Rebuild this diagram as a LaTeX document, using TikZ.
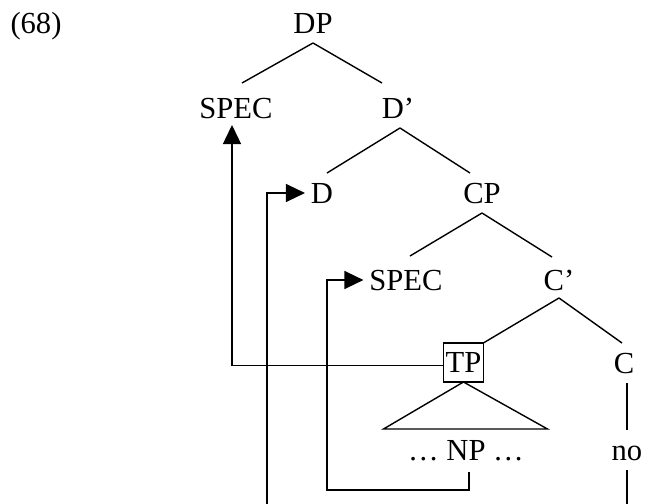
\documentclass[tikz,border=0pt]{standalone}
\usepackage{fontspec}
\setmainfont{Liberation Serif}
\usetikzlibrary{arrows.meta}

\newcommand{\catfont}{\fontsize{15.3}{18}\selectfont}

\begin{document}
\begin{tikzpicture}[x=0.5pt,y=-0.5pt,line width=.7pt]
    \tikzstyle{cat} = [inner sep=0pt, outer xsep=0pt, outer ysep=5pt,
        text height=10pt, text depth=0pt, font=\catfont]
    \tikzstyle{boxed} = [cat, draw, inner xsep=1pt, inner ysep=4.75pt,
        outer ysep=0pt]
    \tikzstyle{move} = [draw, -{Triangle[length=9.5pt,width=9pt]}]

    \clip (0,0) rectangle (645,504);

    % example number
    \node[cat] (exnum) at (36,23) {(68)};
    % DP layer
    \node[cat] (dp) at (313,23) {DP};
    \node[cat] (spec) at (236,108) {SPEC};
    \node[cat] (dbar) at (398,108) {D’};
    \draw (dp.south) -- ([xshift=3pt,yshift=2.5pt]spec.north);
    \draw (dp.south) -- ([xshift=-8pt,yshift=2.5pt]dbar.north);
    % D and CP
    \node[cat] (d) at (322,193) {D};
    \node[cat] (cp) at (482,193) {CP};
    \draw ([xshift=1pt]dbar.south) -- ([xshift=2.5pt]d.north);
    \draw ([xshift=1pt]dbar.south) -- ([xshift=-6pt]cp.north);
    % CP layer
    \node[cat] (specc) at (406,280) {SPEC};
    \node[cat] (cbar) at (559,280) {C’};
    \draw (cp.south) -- ([xshift=2pt,yshift=2pt]specc.north);
    \draw (cp.south) -- ([xshift=-3.5pt,yshift=1.5pt]cbar.north);
    % TP and C
    \node[boxed] (tp) at (463.5,362.5) {TP};
    \node[cat] (c) at (624,363) {C};
    \draw ([yshift=1pt]cbar.south) -- (tp.north east);
    \draw ([yshift=1pt]cbar.south) -- ([xshift=-1pt]c.north);
    \draw (tp.south) -- ++(-80,47) -- ++(164,0) -- cycle;
    % terminals
    \node[cat] (np) at (466,450) {… NP …};
    \node[cat] (no) at (627,450) {no};
    \draw ([xshift=1.5pt]c.south) -- (no.north);

    % movement
    \draw[move] ([yshift=-1.5pt]tp.west) -| ([xshift=-2pt,yshift=1.5pt]spec.south);
    \draw[move] ([xshift=1.5pt,yshift=-1pt]np.south) -- ++(0,18) -- ++(-142,0)
        |- ([xshift=-3pt]specc.west);
    \draw[move] (no.south) -- ++(0,60) -- ++(-360,0) |- ([xshift=-3pt]d.west);
\end{tikzpicture}
\end{document}
